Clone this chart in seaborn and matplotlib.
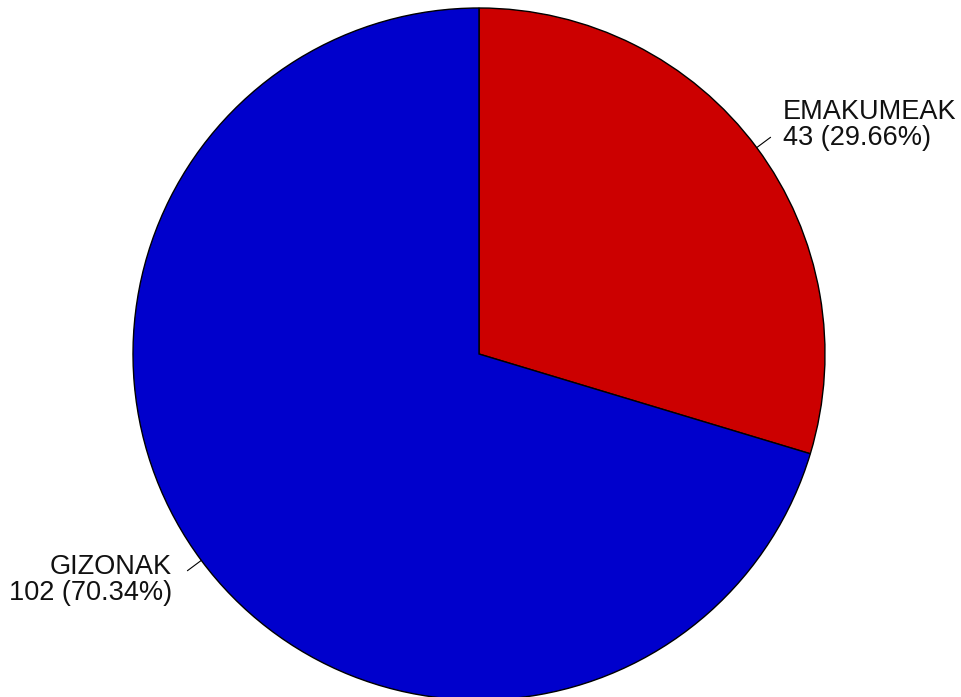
import numpy as np
import seaborn as sns
import matplotlib
matplotlib.use("Agg")
import matplotlib.pyplot as plt

# Datos del gráfico
categorias = ["EMAKUMEAK", "GIZONAK"]
valores = [43, 102]
colores = ["#CC0000", "#0000CC"]

sns.set_theme(style="white")
plt.rcParams['font.family'] = ['Liberation Sans', 'DejaVu Sans']

fig = plt.figure(figsize=(9.62, 6.97), dpi=100)
ax = fig.add_axes([0, 0, 1, 1])

# Centro del pastel en (479, 354) px, radio 346 px
R = 346.0
cx, cy = 479.0, 354.0

wedges, _ = ax.pie(valores, colors=colores, startangle=90, counterclock=False,
                   radius=1.0, center=(0, 0),
                   wedgeprops=dict(edgecolor="black", linewidth=1.0))
ax.set_xlim(-cx / R, (962 - cx) / R)
ax.set_ylim(-(697 - cy) / R, cy / R)
ax.set_aspect("auto")
ax.axis("off")

total = sum(valores)
# posiciones de las etiquetas (px)
pos_texto = [((783 - cx) / R, (cy - 125) / R, "left"),
             ((172 - cx) / R, (cy - 580) / R, "right")]

for w, cat, val, (tx, ty, ha) in zip(wedges, categorias, valores, pos_texto):
    ang = np.deg2rad((w.theta1 + w.theta2) / 2)
    x0, y0 = np.cos(ang), np.sin(ang)
    ax.plot([x0, 1.05 * x0], [y0, 1.05 * y0], color="black", linewidth=0.8)
    ax.text(tx, ty, f"{cat}\n{val} ({val / total * 100:.2f}%)",
            ha=ha, va="center", multialignment=ha, fontsize=19.5,
            linespacing=1.02, color="#111111")

fig.savefig("out.png", dpi=100)
